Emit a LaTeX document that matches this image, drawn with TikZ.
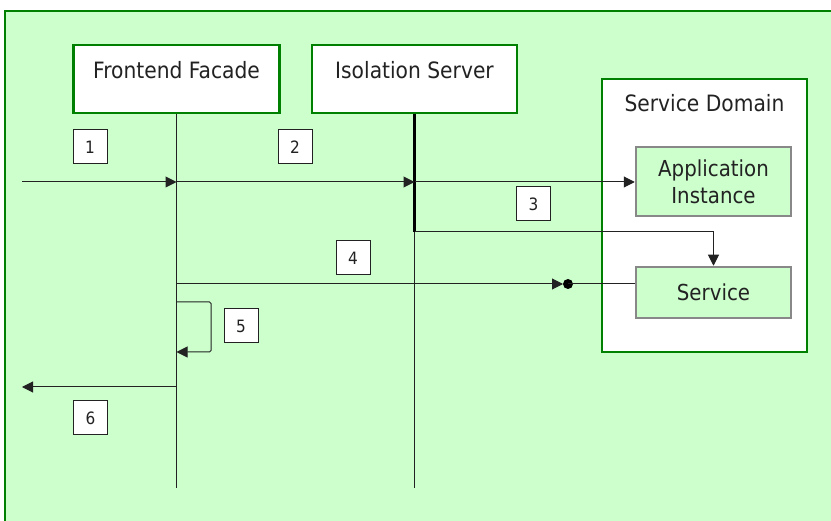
\documentclass[tikz,border=0pt]{standalone}
\usepackage{fontspec}
\setmainfont{DejaVu Sans}[FakeStretch=0.9]
\usetikzlibrary{arrows.meta}
\definecolor{panelgreen}{HTML}{CCFFCC}
\definecolor{framegreen}{HTML}{008000}
\definecolor{inkgray}{HTML}{222222}
\definecolor{boxgray}{HTML}{888888}
\begin{document}
\begin{tikzpicture}[x=1pt,y=-1pt,
  participant/.style={draw=framegreen, line width=2.5pt, fill=white, inner sep=0pt},
  component/.style={draw=boxgray, line width=2.5pt, fill=panelgreen, inner sep=0pt,
    align=center, font=\fontsize{22}{27}\selectfont, text=inkgray},
  caption/.style={font=\fontsize{22.5}{26}\selectfont, text=inkgray, inner sep=0pt},
  numbox/.style={draw=inkgray, line width=1pt, fill=white, minimum size=34pt, inner sep=0pt,
    font=\fontsize{17}{17}\selectfont, text=inkgray},
  msg/.style={draw=inkgray, line width=1pt, -{Triangle[length=11pt,width=11pt]}},
  lifeline/.style={draw=inkgray, line width=1pt}]
\useasboundingbox (0,0) rectangle (831,521);
\clip (0,0) rectangle (831,521);
\fill[white] (0,0) rectangle (831,521);
% background panel
\draw[framegreen, line width=2.5pt, fill=panelgreen] (5,11) rectangle (860,560);

% participants
\node[participant, minimum width=206pt, minimum height=68pt] (ff) at (176.5,79) {};
\node[caption] (fftxt) at ([yshift=-26pt]ff.north) {Frontend Facade};
\node[participant, minimum width=205pt, minimum height=68pt] (iso) at (414.5,79) {};
\node[caption] (isotxt) at ([yshift=-26pt]iso.north) {Isolation Server};

% service domain
\node[participant, minimum width=205pt, minimum height=273pt] (sd) at (704.5,215.5) {};
\node[caption] (sdtxt) at ([yshift=-25pt]sd.north) {Service Domain};
\node[component, minimum width=155pt, minimum height=69pt] (app) at (713.5,181.5) {Application\\Instance};
\node[component, minimum width=155pt, minimum height=51pt] (svc) at (713.5,292.5) {Service};

% lifelines
\coordinate (ffend) at (176.5,488);
\coordinate (isoend) at (414.5,488);
\draw[lifeline] (ff.south) -- (ffend);
\draw[lifeline] (iso.south) -- (isoend);
\coordinate (isoact) at (414.5,232);
\draw[line width=2.6pt] (iso.south) -- (isoact);

% messages
\coordinate (src) at (22,182);
\coordinate (sink) at (22,387);
\draw[msg] (src) -- (ff.south |- src);
\draw[msg] (ff.south |- src) -- (iso.south |- src);
\draw[msg] (iso.south |- src) -- (app.west |- src);
\draw[msg] (isoact) -| (svc.north);

\coordinate (m4) at (176.5,284);
\coordinate (m4tip) at (563,284);
\coordinate (m4dot) at (568,284);
\draw[msg] (m4) -- (m4tip);
\fill[black] (m4dot) circle (5pt);
\draw[lifeline] (m4dot) -- (svc.west |- m4dot);

\coordinate (m5a) at (176.5,302);
\coordinate (m5b) at (211,302);
\coordinate (m5c) at (211,352);
\coordinate (m5d) at (176.5,352);
\draw[msg, rounded corners=1.5pt] (m5a) -- (m5b) -- (m5c) -- (m5d);

\draw[msg] (ff.south |- sink) -- (sink);

% step numbers
\node[numbox] (n1) at (90,147) {1};
\node[numbox] (n2) at (295,147) {2};
\node[numbox] (n3) at (533.5,204) {3};
\node[numbox] (n4) at (353,258) {4};
\node[numbox] (n5) at (241,326) {5};
\node[numbox] (n6) at (90.5,418) {6};
\end{tikzpicture}
\end{document}
